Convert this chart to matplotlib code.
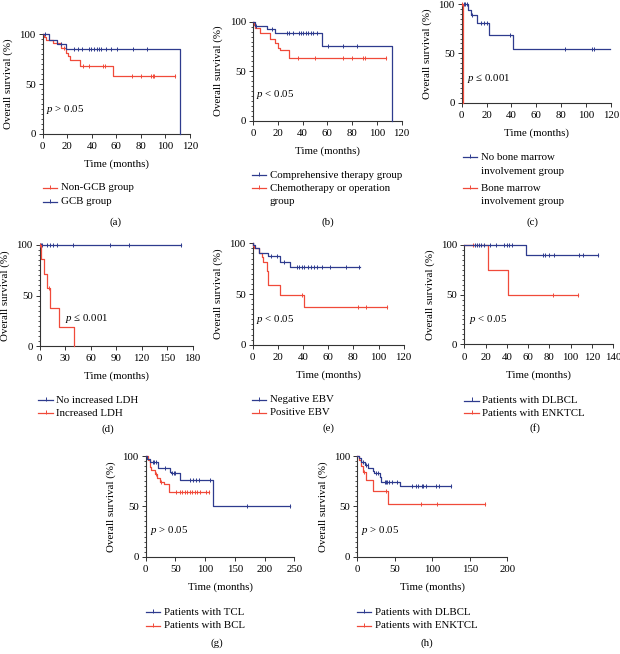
import numpy as np
import matplotlib
matplotlib.use('Agg')
import matplotlib.pyplot as plt
from matplotlib.lines import Line2D
from matplotlib.ticker import MultipleLocator

plt.rcParams['font.family'] = ['Liberation Serif', 'DejaVu Serif']
plt.rcParams['mathtext.fontset'] = 'custom'
plt.rcParams['mathtext.rm'] = 'Liberation Serif'
plt.rcParams['mathtext.it'] = 'Liberation Serif:italic'

BLUE = '#2e3b8e'
RED = '#f04a3a'
FS = 7.8

# ---- data: event times, survival (%) after each event, censor times, last follow-up
# (a) GCB vs Non-GCB
a_gcb_t = [5, 12, 19, 112]
a_gcb_s = [94.5, 90, 85.5, 0]
a_gcb_c = [2, 14.6, 25.8, 28.5, 32.3, 38, 39.4, 42, 44.5, 46, 47.5, 51.6, 55.6, 60.8, 73.3, 85.2]
a_gcb_end = 112
a_non_t = [1, 3, 8, 15, 19, 20.5, 22, 30, 57]
a_non_s = [97, 94, 91, 86, 81, 78, 74, 68.5, 58.5]
a_non_c = [17, 33, 38, 49, 51, 73, 80, 88, 89.5, 91, 108]
a_non_end = 108

# (b) comprehensive therapy vs chemotherapy/operation
b_comp_t = [1.6, 11, 17.8, 56, 112]
b_comp_s = [96, 92.5, 88.5, 75, 0]
b_comp_c = [2.5, 15, 27.2, 29.3, 32, 37.4, 38.7, 40.6, 42.5, 44.6, 46.8, 48.7, 51.4, 60.3, 72.4, 84.2]
b_comp_end = 112
b_chem_t = [0.5, 1.6, 5.6, 13.7, 17.8, 20.4, 21.8, 29.3]
b_chem_s = [97, 94, 88.3, 82.8, 78.8, 73.7, 71.4, 63.6]
b_chem_c = [36.6, 50, 72.4, 79.6, 88.5, 90.5, 107]
b_chem_end = 107

# (c) bone marrow involvement
c_no_t = [5.3, 7.2, 12, 22, 41.5]
c_no_s = [94, 88.5, 80.4, 68.6, 54.4]
c_no_c = [1.5, 2.7, 4, 8.6, 15.5, 18, 20.5, 38.8, 83, 104.5, 106]
c_no_end = 119
c_bm_t = [1]
c_bm_s = [0]
c_bm_c = [0.5]
c_bm_end = 1

# (d) LDH
d_no_t = []
d_no_s = []
d_no_c = [0.5, 1.5, 3, 8.2, 12, 16, 20.7, 39.5, 82.7, 105, 166]
d_no_end = 166
d_inc_t = [1.5, 5.4, 8.2, 12, 22.7, 40.3]
d_inc_s = [85.7, 71.4, 57.1, 38.1, 19, 0]
d_inc_c = [0.5, 10.5]
d_inc_end = 40.3

# (e) EBV
e_neg_t = [0.5, 2, 5, 12.4, 22, 30]
e_neg_s = [98, 95.5, 90.5, 87, 82, 76.5]
e_neg_c = [14.3, 19, 24.5, 35, 37, 39, 41, 44, 46.5, 48.7, 51.4, 55.3, 61.6, 74, 84.5]
e_neg_end = 85
e_pos_t = [0.5, 1, 5, 7, 8, 11, 12, 22, 41]
e_pos_s = [97, 95, 90.5, 86, 81.5, 73, 59, 49, 37]
e_pos_c = [39, 84, 90, 107]
e_pos_end = 107

# (f) DLBCL vs ENKTCL
f_dl_t = [57.8]
f_dl_s = [89.9]
f_dl_c = [10, 11.6, 14, 16, 18.5, 24, 30, 37.7, 40, 42, 44.6, 73.8, 76, 80, 84.5, 108, 112, 125.6]
f_dl_end = 125.6
f_en_t = [22.6, 40.8]
f_en_s = [75, 50]
f_en_c = [8.5, 83.8, 107.4]
f_en_end = 107.4

# (g) TCL vs BCL
g_t_t = [2.2, 6.7, 20.7, 40.4, 43, 58.3, 113.2]
g_t_s = [97.5, 94.3, 87.8, 84.4, 82.8, 76.2, 50.6]
g_t_c = [12, 14, 17, 32, 44.5, 47, 50, 74, 79.5, 85, 90.5, 107.6, 170, 242]
g_t_end = 242
g_b_t = [3.9, 7.8, 9.5, 15, 19, 23.5, 30.3, 39.2]
g_b_s = [96, 89.4, 86, 82, 77.8, 74.5, 71.9, 64.5]
g_b_c = [17, 26, 51.5, 57.2, 61.6, 65.6, 70, 74, 78.4, 82.4, 86.8, 90.8, 102, 106.5]
g_b_end = 106.5

# (h) DLBCL vs ENKTCL
h_dl_t = [2.3, 5.3, 9.8, 14, 21, 22, 29.8, 31, 56.5]
h_dl_s = [97.7, 94.4, 91.1, 87.8, 85.5, 82.8, 79, 74.5, 70.2]
h_dl_c = [7, 12, 13.7, 25, 27, 36.5, 38.5, 40, 42.5, 46, 53, 73.3, 78, 81, 86, 88, 91.2, 104.5, 108.4, 125.3]
h_dl_end = 125.3
h_en_t = [2.3, 5.3, 7.6, 12, 21, 41]
h_en_s = [96, 90, 84.4, 76.2, 65.2, 52.3]
h_en_c = [9, 38.7, 84.5, 106.2, 169.8]
h_en_end = 169.8

W, H = 620, 654
fig = plt.figure(figsize=(W / 100, H / 100), dpi=100)


def add_axes(left, right, top, bottom):
    return fig.add_axes([left / W, 1 - bottom / H, (right - left) / W, (bottom - top) / H])


def km(ax, t, s, c, end, color):
    tt = np.r_[0, t]
    ss = np.r_[100, s]
    if end > tt[-1]:
        tt = np.r_[tt, end]
        ss = np.r_[ss, ss[-1]]
    ax.step(tt, ss, where='post', color=color, lw=0.9, clip_on=False, zorder=3)
    c = np.asarray(c)
    cy = ss[np.searchsorted(tt, c, side='right') - 1]
    ax.plot(c, cy, ls='none', marker='|', ms=3.2, mew=0.7, color=color, clip_on=False, zorder=3)


def style(ax, xmax, xstep, ptxt, px, py, h_px):
    ax.set_xlim(0, xmax)
    ax.set_ylim(0, 100)
    ax.set_xticks(np.arange(0, xmax + 1, xstep))
    ax.set_yticks([0, 50, 100])
    ax.yaxis.set_minor_locator(MultipleLocator(5))
    for sp in ['top', 'right']:
        ax.spines[sp].set_visible(False)
    for sp in ['left', 'bottom']:
        ax.spines[sp].set_linewidth(0.8)
        ax.spines[sp].set_color('#333333')
    ax.tick_params(which='major', length=3, width=0.7, labelsize=FS, color='#333333')
    ax.tick_params(axis='x', pad=3)
    ax.tick_params(axis='y', pad=2)
    ax.tick_params(which='minor', length=1.8, width=0.6, color='#333333')
    ax.set_xlabel('Time (months)', fontsize=FS)
    ax.xaxis.set_label_coords(0.5, -30.5 / h_px)
    ax.xaxis.label.set_va('center')
    ax.set_ylabel('Overall survival (%)', fontsize=FS)
    ax.yaxis.set_label_coords(-34.5 / w_px(ax), 0.5)
    ax.yaxis.label.set_va('center')
    ax.text(px, py, ptxt, fontsize=FS, ha='left', va='center')


def w_px(ax):
    return ax.get_position().width * W


def legend(x0, entries, hl=14.5, gap=3.5):
    # entries: (color, [lines], [y of each line])
    for color, lines, ys in entries:
        fy = 1 - ys[0] / H
        fig.add_artist(Line2D([x0 / W, (x0 + hl) / W], [fy, fy], color=color, lw=0.9,
                              transform=fig.transFigure))
        fig.add_artist(Line2D([(x0 + hl / 2) / W], [fy + 1.2 / H], marker='|', ms=3,
                              mew=0.7, color=color, transform=fig.transFigure))
        for line, y in zip(lines, ys):
            fig.text((x0 + hl + gap) / W, 1 - y / H, line, fontsize=FS, ha='left', va='center')


def panel_label(x, y, txt):
    fig.text(x / W, 1 - y / H, txt, fontsize=FS, ha='center', va='center')


# (a)
ax = add_axes(42.7, 190, 34.3, 133.7)
km(ax, a_non_t, a_non_s, a_non_c, a_non_end, RED)
km(ax, a_gcb_t, a_gcb_s, a_gcb_c, a_gcb_end, BLUE)
style(ax, 120, 20, r'$p$ > 0.05', 2.7, 24.8, 99.4)
legend(42.7, [(RED, ['Non-GCB group'], [188]), (BLUE, ['GCB group'], [202])])
panel_label(115, 222, '(a)')

# (b)
ax = add_axes(253, 401.7, 21.7, 120.7)
km(ax, b_chem_t, b_chem_s, b_chem_c, b_chem_end, RED)
km(ax, b_comp_t, b_comp_s, b_comp_c, b_comp_end, BLUE)
style(ax, 120, 20, r'$p$ < 0.05', 2.2, 26, 99)
legend(251.7, [(BLUE, ['Comprehensive therapy group'], [175]),
               (RED, ['Chemotherapy or operation', 'group'], [188.3, 201.7])])
panel_label(328, 222, '(b)')

# (c)
ax = add_axes(461.7, 611, 4, 102.7)
km(ax, c_no_t, c_no_s, c_no_c, c_no_end, BLUE)
km(ax, c_bm_t, c_bm_s, c_bm_c, c_bm_end, RED)
style(ax, 120, 20, r'$p$ ≤ 0.001', 4.5, 24.7, 98.7)
legend(462.7, [(BLUE, ['No bone marrow', 'involvement group'], [157, 171]),
               (RED, ['Bone marrow', 'involvement group'], [188.5, 202])])
panel_label(532, 222, '(c)')

# (d)
ax = add_axes(39.7, 192.7, 245, 346)
km(ax, d_no_t, d_no_s, d_no_c, d_no_end, BLUE)
km(ax, d_inc_t, d_inc_s, d_inc_c, d_inc_end, RED)
style(ax, 180, 30, r'$p$ ≤ 0.001', 30, 27, 101)
legend(38.3, [(BLUE, ['No increased LDH'], [400.3]), (RED, ['Increased LDH'], [413.3])])
panel_label(108, 429, '(d)')

# (e)
ax = add_axes(252.7, 403.7, 243.3, 344.7)
km(ax, e_pos_t, e_pos_s, e_pos_c, e_pos_end, RED)
km(ax, e_neg_t, e_neg_s, e_neg_c, e_neg_end, BLUE)
style(ax, 120, 20, r'$p$ < 0.05', 2.4, 25, 101.4)
legend(251.7, [(BLUE, ['Negative EBV'], [400]), (RED, ['Positive EBV'], [412.7])])
panel_label(328, 428, '(e)')

# (f)
ax = add_axes(464.3, 613, 245, 344.3)
km(ax, f_en_t, f_en_s, f_en_c, f_en_end, RED)
km(ax, f_dl_t, f_dl_s, f_dl_c, f_dl_end, BLUE)
style(ax, 140, 20, r'$p$ < 0.05', 4.5, 25.2, 99.3)
legend(464.3, [(BLUE, ['Patients with DLBCL'], [400.7]), (RED, ['Patients with ENKTCL'], [413.3])])
panel_label(535, 428, '(f)')

# (g)
ax = add_axes(145.7, 294.3, 456, 556.7)
km(ax, g_b_t, g_b_s, g_b_c, g_b_end, RED)
km(ax, g_t_t, g_t_s, g_t_c, g_t_end, BLUE)
style(ax, 250, 50, r'$p$ > 0.05', 7.2, 25.8, 100.7)
legend(145.7, [(BLUE, ['Patients with TCL'], [612.3]), (RED, ['Patients with BCL'], [625.7])])
panel_label(217, 643, '(g)')

# (h)
ax = add_axes(357.3, 507.3, 456, 556.7)
km(ax, h_en_t, h_en_s, h_en_c, h_en_end, RED)
km(ax, h_dl_t, h_dl_s, h_dl_c, h_dl_end, BLUE)
style(ax, 200, 50, r'$p$ > 0.05', 4.5, 25.8, 100.7)
legend(356.7, [(BLUE, ['Patients with DLBCL'], [612.3]), (RED, ['Patients with ENKTCL'], [625.7])])
panel_label(427, 643, '(h)')

fig.savefig('out.png', dpi=100)
